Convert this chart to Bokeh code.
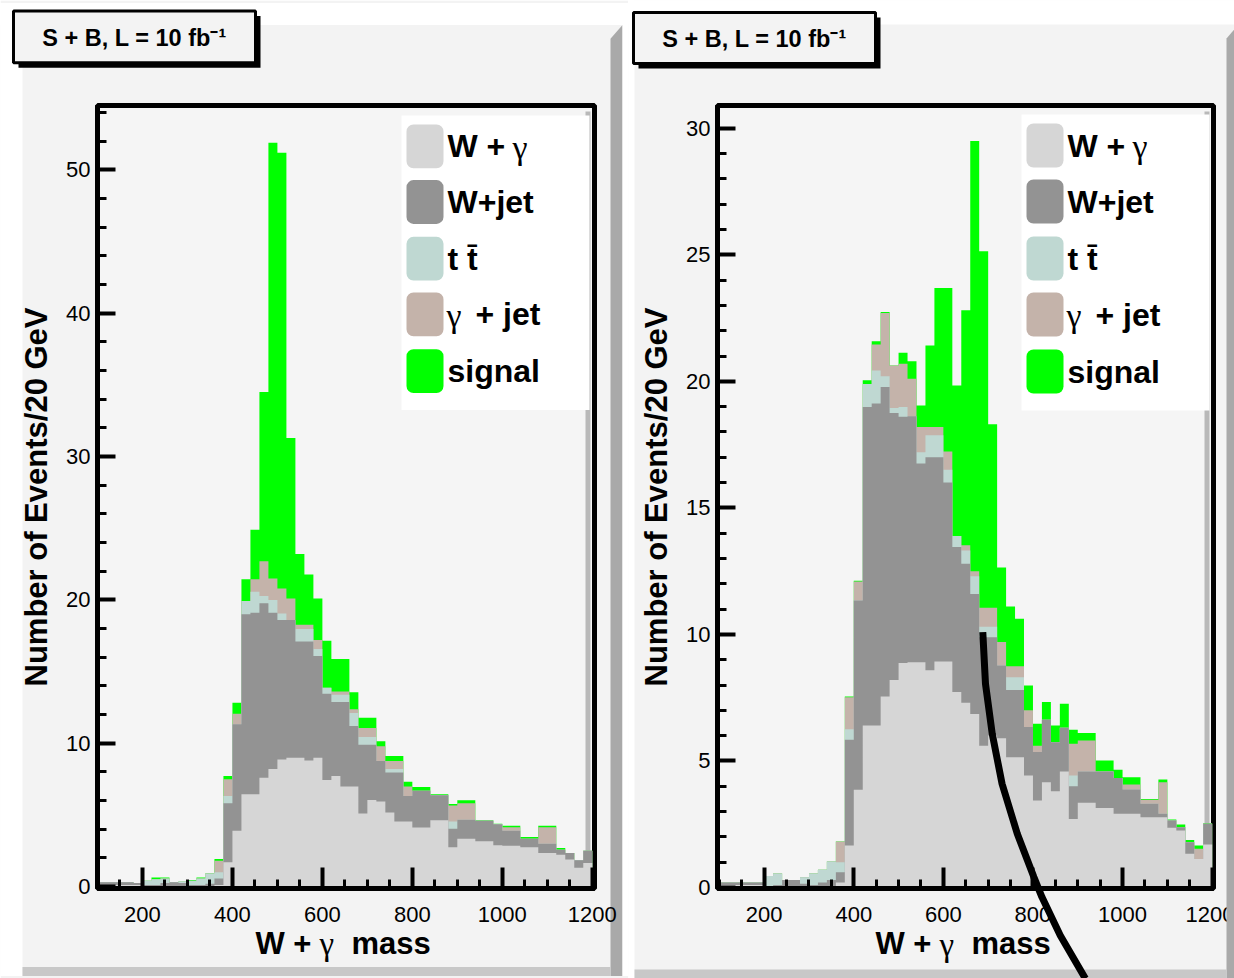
from bokeh.plotting import figure
from bokeh.models import Range1d, FixedTicker
from bokeh.layouts import row
from bokeh.embed import file_html
from bokeh.resources import INLINE
from bokeh.core.properties import value

FONT = "Liberation Sans"
SERIF = "Liberation Serif"
PAD = "#f3f3f3"
FRAME_BG = "#f5f5f5"
BEVEL = "#a9a9a9"
H = 978

# ---------------- data ----------------
mass_edges = list(range(100, 1201, 20))          # 55 bins of 20 GeV
x_major = [200, 400, 600, 800, 1000, 1200]
x_minor = list(range(100, 1201, 50))

layer_names = ["W + γ", "W+jet", "t t̄", "γ + jet", "signal"]
layer_colors = ["#d6d6d6", "#939393", "#bfd8d2", "#c4b3aa", "#00ff00"]

# cumulative stack tops (events / 20 GeV), left panel
left_wgamma = [0.1, 0.1, 0.1, 0.1, 0.1, 0, 0, 0, 0, 0, 0, 0, 0, 0.1, 1.69, 3.89, 6.44, 6.44, 7.59, 8.2,
               8.87, 8.98, 8.98, 8.8, 8.98, 7.43, 7.71, 6.97, 6.97, 5.1, 6.04, 5.93, 5.16, 4.54, 4.54, 4.12,
               4.12, 4.63, 4.63, 2.73, 3.33, 3.33, 3.15, 3.15, 2.87, 2.85, 2.85, 2.73, 2.73, 2.34, 2.34,
               2.22, 1.88, 1.3, 1.64]
left_wjet = [0.3, 0.3, 0.3, 0.3, 0.25, 0.1, 0.1, 0.25, 0.3, 0.25, 0.1, 0.1, 0.2, 0.56, 5.81, 11.32, 19.0,
             19.1, 19.77, 19.1, 18.6, 18.6, 17.1, 17.1, 16.09, 13.45, 12.87, 12.87, 11.2, 9.9, 9.9, 8.75,
             7.96, 7.96, 6.32, 6.69, 6.69, 6.37, 6.37, 4.03, 4.65, 4.65, 4.58, 4.58, 4.35, 3.89, 3.89,
             3.33, 3.33, 2.99, 2.99, 2.57, 2.34, 1.83, 2.5]
left_ttbar = [0.3, 0.3, 0.3, 0.3, 0.25, 0.4, 0.5, 0.55, 0.3, 0.35, 0.4, 0.55, 0.9, 1.0, 6.32, 11.32, 19.93,
              20.56, 20.28, 20.0, 19.05, 18.6, 17.96, 17.96, 16.57, 13.87, 13.38, 13.38, 12.1, 10.44,
              10.44, 8.75, 8.2, 8.2, 6.32, 6.69, 6.69, 6.37, 6.37, 4.54, 4.65, 4.65, 4.58, 4.58, 4.35,
              3.89, 3.89, 3.33, 3.33, 2.99, 2.99, 2.57, 2.34, 1.83, 2.5]
left_gjet = [0.3, 0.3, 0.3, 0.3, 0.25, 0.4, 0.5, 0.55, 0.3, 0.35, 0.4, 0.55, 0.9, 1.8, 7.48, 12.06, 19.93,
             21.44, 22.7, 21.5, 20.8, 20.1, 18.26, 18.26, 17.2, 13.87, 13.6, 13.6, 12.36, 11.06, 11.06,
             9.79, 8.75, 8.75, 6.97, 6.69, 6.69, 6.37, 6.37, 5.65, 5.81, 5.81, 4.58, 4.58, 4.35, 4.14,
             4.14, 3.33, 3.33, 4.14, 4.14, 2.57, 2.34, 1.83, 2.5]
left_signal = [0.3, 0.3, 0.3, 0.3, 0.25, 0.4, 0.62, 0.62, 0.3, 0.35, 0.46, 0.62, 0.93, 1.92, 7.71, 12.82,
               21.44, 24.9, 34.5, 51.9, 51.2, 31.3, 23.2, 21.78, 20.1, 17.15, 15.88, 15.88, 13.56, 11.78,
               11.78, 10.14, 9.1, 9.1, 7.31, 6.94, 6.94, 6.43, 6.43, 5.76, 6.02, 6.02, 4.63, 4.63, 4.38,
               4.24, 4.24, 3.45, 3.45, 4.24, 4.24, 2.69, 2.34, 1.83, 2.5]

# cumulative stack tops, right panel
right_wgamma = [0.1, 0.1, 0.1, 0.1, 0.1, 0, 0, 0, 0, 0, 0, 0, 0, 0.2, 1.66, 3.86, 6.4, 6.4, 7.55, 8.2,
                8.87, 8.9, 8.9, 8.58, 8.93, 8.93, 7.72, 7.3, 6.86, 5.6, 6.01, 5.9, 5.15, 5.15, 4.43, 3.44,
                4.16, 3.8, 4.58, 2.71, 3.35, 3.35, 3.14, 3.14, 2.91, 2.91, 2.91, 2.78, 2.78, 2.78, 2.36,
                2.25, 1.33, 1.13, 1.7]
right_wjet = [0.2, 0.2, 0.2, 0.2, 0.2, 0.05, 0.1, 0.3, 0.3, 0.15, 0.1, 0.2, 0.3, 0.6, 5.84, 11.34, 18.99,
              19.12, 19.78, 18.75, 18.6, 18.62, 16.75, 17.0, 17.0, 16.0, 13.45, 12.79, 11.6, 9.89, 9.89,
              8.77, 7.8, 7.8, 6.34, 5.35, 6.63, 5.74, 6.31, 4.0, 4.58, 4.58, 4.58, 4.58, 4.33, 3.87, 3.87,
              3.31, 3.31, 2.91, 2.65, 2.38, 1.79, 1.13, 2.52]
right_ttbar = [0.2, 0.2, 0.2, 0.2, 0.2, 0.45, 0.55, 0.3, 0.3, 0.4, 0.55, 0.7, 1.03, 1.0, 6.25, 11.34, 19.9,
               20.43, 20.2, 18.95, 18.99, 18.62, 17.2, 17.87, 17.87, 16.51, 13.89, 13.32, 12.3, 10.3,
               10.3, 8.77, 8.31, 8.31, 6.34, 5.35, 6.63, 5.74, 6.31, 4.43, 4.58, 4.58, 4.58, 4.58, 4.33,
               3.87, 3.87, 3.31, 3.31, 2.91, 2.65, 2.38, 1.79, 1.13, 2.52]
right_gjet = [0.2, 0.2, 0.2, 0.2, 0.2, 0.45, 0.55, 0.3, 0.3, 0.4, 0.55, 0.7, 1.03, 1.82, 7.52, 12.09, 19.9,
              21.46, 22.7, 20.63, 20.7, 20.1, 18.2, 18.2, 18.2, 17.23, 13.89, 13.52, 12.5, 11.05, 11.05,
              9.7, 8.74, 8.74, 7.0, 5.6, 6.63, 5.74, 6.31, 5.68, 5.81, 5.81, 4.58, 4.58, 4.33, 4.07, 4.07,
              3.47, 3.47, 4.16, 2.65, 2.38, 1.79, 1.53, 2.52]
right_signal = [0.2, 0.2, 0.2, 0.2, 0.2, 0.45, 0.55, 0.3, 0.3, 0.4, 0.55, 0.7, 1.03, 1.82, 7.55, 12.12,
                20.04, 21.58, 22.74, 20.63, 21.13, 20.79, 19.05, 21.42, 23.69, 23.69, 19.84, 22.81, 29.5,
                25.14, 18.3, 12.64, 11.1, 10.62, 7.98, 6.47, 7.33, 6.4, 7.26, 6.23, 6.1, 6.1, 5.02, 5.02,
                4.65, 4.36, 4.36, 3.5, 3.5, 4.27, 2.69, 2.49, 1.88, 1.66, 2.54]

left_y_major = [0, 10, 20, 30, 40, 50]
left_y_minor = list(range(0, 55, 2))
right_y_major = [0, 5, 10, 15, 20, 25, 30]
right_y_minor = list(range(0, 31, 1))

# hand-drawn marker line on the right panel (mass, events)
marker_mass = [688, 694, 709, 731, 765, 802, 820, 861, 917]
marker_events = [10.09, 8.05, 6.08, 4.1, 2.12, 0.41, -0.38, -1.9, -3.6]

title_text = "S + B, L = 10 fb\u207b\u00b9"


def make_panel(tops, width, borders, xr, yr, y_major, y_minor, geo):
    bl, br, bt, bb = borders
    p = figure(width=width, height=H, x_range=Range1d(*xr), y_range=Range1d(*yr),
               output_backend="svg", toolbar_location=None,
               min_border_left=bl, min_border_right=br, min_border_top=bt, min_border_bottom=bb)
    p.background_fill_color = FRAME_BG
    p.border_fill_color = PAD
    p.outline_line_color = "black"
    p.outline_line_width = 5
    p.grid.visible = False

    # pixel -> data helpers for decorations (canvas pixels of this panel)
    fw = width - bl - br
    fh = H - bt - bb

    def X(px):
        return xr[0] + (px - bl) * (xr[1] - xr[0]) / fw

    def Y(py):
        return yr[1] - (py - bt) * (yr[1] - yr[0]) / fh

    # thin shadow strip along the inner right edge of the frame (behind the histogram)
    fr = width - br
    p.quad(left=[X(fr - 9)], right=[X(fr - 4)], top=[Y(bt + 6)], bottom=[Y(H - bb)],
           fill_color="#b9b9b9", line_color=None)

    # stacked histogram drawn back-to-front (highest cumulative first)
    for top, color in zip(reversed(tops), reversed(layer_colors)):
        y = list(top) + [top[-1]]
        p.varea_step(x=mass_edges, y1=[0] * len(y), y2=y, step_mode="after", fill_color=color)

    for ax in (p.xaxis[0], p.yaxis[0]):
        ax.axis_line_color = "black"
        ax.axis_line_width = 5
        ax.major_tick_line_width = 4
        ax.minor_tick_line_width = 3
        ax.major_tick_out = 0
        ax.minor_tick_out = 0
        ax.major_label_text_font = FONT
        ax.major_label_text_font_size = "22px"
        ax.major_label_text_color = "black"
        ax.axis_label_text_font = FONT
        ax.axis_label_text_font_style = "bold"
        ax.axis_label_text_font_size = "31px"
        ax.axis_label_text_color = "black"
    p.xaxis.ticker = FixedTicker(ticks=x_major, minor_ticks=x_minor)
    p.yaxis.ticker = FixedTicker(ticks=y_major, minor_ticks=y_minor)
    p.xaxis.major_tick_in = 21
    p.xaxis.minor_tick_in = 9
    p.yaxis.major_tick_in = 18
    p.yaxis.minor_tick_in = 9
    p.xaxis.major_label_standoff = 18
    p.yaxis.major_label_standoff = 7
    p.yaxis.axis_label = "Number of Events/20 GeV"
    p.yaxis.axis_label_standoff = 9

    g = geo

    def quad(l, r, t, b, **kw):
        p.quad(left=[X(l)], right=[X(r)], top=[Y(t)], bottom=[Y(b)], line_color=None,
               level="overlay", **kw)

    # pad surroundings: white margins, bevel
    quad(0, g["pad_l"], 0, H, fill_color="white")
    quad(0, width, 0, g["pad_t"], fill_color="white")
    pr = g["pad_r"]
    p.patch(x=[X(pr), X(pr + 12), X(pr + 12), X(pr)],
            y=[Y(g["pad_t"] + 14), Y(g["pad_t"]), Y(H), Y(H)],
            fill_color=BEVEL, line_color=None, level="overlay")
    quad(g["pad_l"], pr, 969, H, fill_color="#c8c8c8")
    if pr + 12 < width:
        quad(pr + 12, width, 0, H, fill_color="white")

    # title box with shadow
    tl, tr, tt, tb = g["title"]
    quad(tl + 5, tr + 5, tt + 5, tb + 5, fill_color="black")
    p.quad(left=[X(tl)], right=[X(tr)], top=[Y(tt)], bottom=[Y(tb)], fill_color=PAD,
           line_color="black", line_width=3, level="overlay")
    p.text(x=[X((tl + tr) / 2)], y=[Y((tt + tb) / 2 + 1)], text=[title_text],
           text_font=value(FONT), text_font_style="bold", text_font_size="23.5px",
           text_align="center", text_baseline="middle", text_color="black", level="overlay")

    # legend box
    ll, lt = g["legend"]
    quad(ll, ll + 188, lt, lt + 296, fill_color="white")
    centers = [lt + 31, lt + 87, lt + 144, lt + 200, lt + 257]
    for cy, color in zip(centers, layer_colors):
        p.quad(left=[X(ll + 5)], right=[X(ll + 42)], top=[Y(cy - 22)], bottom=[Y(cy + 22)],
               fill_color=color, line_color=None, border_radius=7, level="overlay")
    tx = ll + 46

    def txt(px, py, s, font=FONT, style="bold", size="32px"):
        p.text(x=[X(px)], y=[Y(py)], text=[s], text_font=value(font), text_font_style=style,
               text_font_size=size, text_align="left", text_baseline="middle",
               text_color="black", level="overlay")

    txt(tx, centers[0], "W +")
    txt(tx + 65, centers[0] + 1, "γ", font=SERIF, style="normal", size="34px")
    txt(tx, centers[1], "W+jet")
    txt(tx, centers[2], "t t\u0304")
    txt(tx - 1, centers[3] + 1, "γ", font=SERIF, style="normal", size="34px")
    txt(tx + 28, centers[3], "+ jet")
    txt(tx, centers[4], "signal")

    # x axis title  "W + γ  mass"
    ax0, ay = g["xtitle"]
    txt(ax0, ay, "W +", size="31px")
    txt(ax0 + 64, ay + 1, "γ", font=SERIF, style="normal", size="33px")
    txt(ax0 + 96, ay, "mass", size="31px")
    return p


left = make_panel([left_wgamma, left_wjet, left_ttbar, left_gjet, left_signal], 628,
                  (97, 34, 103, 88), (100, 1205), (-0.14, 54.5), left_y_major, left_y_minor,
                  dict(pad_l=22, pad_t=22, pad_r=610, title=(13, 255, 8, 60),
                       legend=(401, 113), xtitle=(255, 945)))
# keep the left x axis (and its "1200" label) above the pad bevel
left.xaxis.level = "overlay"

right = make_panel([right_wgamma, right_wjet, right_ttbar, right_gjet, right_signal], 606,
                   (89, 21, 105, 90), (95.8, 1203), (-0.04, 30.9), right_y_major, right_y_minor,
                   dict(pad_l=6, pad_t=24, pad_r=598, title=(5, 247, 12, 63),
                        legend=(393, 114), xtitle=(247, 943)))
right.line(x=marker_mass, y=marker_events, line_width=7, line_color="black", level="overlay")

layout = row(left, right)
open("out.html", "w").write(file_html(layout, INLINE))
